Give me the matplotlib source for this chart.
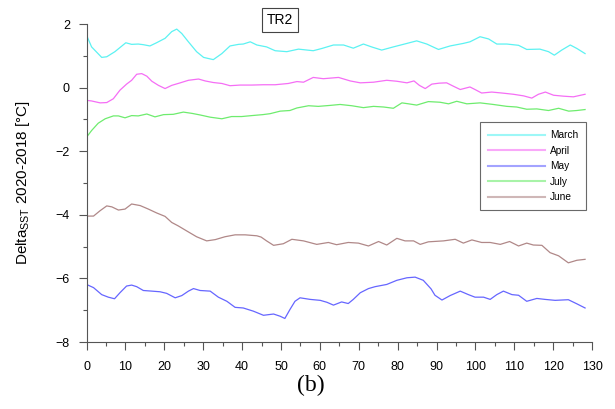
import numpy as np
import matplotlib
matplotlib.use("Agg")
import matplotlib.pyplot as plt
from matplotlib.ticker import MultipleLocator

plt.rcParams['font.family'] = ['Liberation Sans', 'DejaVu Sans']
plt.rcParams['mathtext.default'] = 'regular'

# values
march_x = [0, 1.3, 3.9, 5.2, 7.3, 10.1, 11.6, 13.3, 14.6, 16.3, 18.0, 20.2, 21.9, 23.2, 24.5, 26.2,
           28.3, 30.1, 32.6, 34.8, 36.9, 39.1, 40.3, 42.1, 43.8, 46.3, 48.5, 51.5, 54.5, 58.3,
           60.5, 63.5, 66.1, 68.6, 71.2, 73.3, 75.9, 78.9, 82.4, 84.9, 87.5, 90.5, 93.5, 96.9,
           98.6, 101.2, 103.4, 105.5, 108.1, 111.1, 113.2, 116.6, 118.8, 120.3, 122.2, 124.4,
           126.1, 128.2]
march_y = [1.65, 1.28, 0.95, 0.97, 1.13, 1.41, 1.36, 1.37, 1.35, 1.31, 1.41, 1.55, 1.76, 1.84,
           1.70, 1.44, 1.13, 0.95, 0.88, 1.07, 1.31, 1.36, 1.37, 1.44, 1.34, 1.28, 1.16, 1.13,
           1.21, 1.16, 1.23, 1.34, 1.34, 1.24, 1.37, 1.28, 1.18, 1.28, 1.39, 1.47, 1.37, 1.2,
           1.31, 1.39, 1.44, 1.6, 1.53, 1.37, 1.37, 1.33, 1.2, 1.21, 1.13, 1.02, 1.18, 1.34,
           1.23, 1.07]

april_x = [0, 1.3, 3.5, 5.2, 6.9, 8.6, 10.3, 11.6, 12.9, 14.2, 15.5, 16.8, 18.5, 20.2, 21.9,
           24.1, 26.2, 28.8, 30.5, 32.6, 34.8, 36.9, 39.5, 42.5, 45.5, 48.5, 51.9, 54.1, 55.8,
           58.3, 60.9, 64.8, 67.8, 70.4, 73.8, 77.2, 79.8, 82.4, 84.2, 85.6, 87.1, 88.8, 90.7,
           92.6, 94.4, 96.1, 98.6, 99.9, 101.6, 104.2, 106.8, 109.8, 112.4, 114.5, 116.2,
           118.0, 120.1, 122.7, 125.2, 128.2]
april_y = [-0.40, -0.42, -0.48, -0.47, -0.35, -0.08, 0.11, 0.23, 0.42, 0.44, 0.36, 0.20, 0.07,
           -0.03, 0.07, 0.15, 0.23, 0.27, 0.21, 0.16, 0.13, 0.06, 0.08, 0.08, 0.09, 0.09, 0.13,
           0.19, 0.17, 0.32, 0.28, 0.32, 0.21, 0.15, 0.17, 0.23, 0.20, 0.15, 0.21, 0.07, -0.03,
           0.11, 0.14, 0.15, 0.04, -0.06, 0.02, -0.06, -0.17, -0.14, -0.17, -0.21, -0.26, -0.33,
           -0.21, -0.14, -0.24, -0.27, -0.29, -0.21]

may_x = [0, 1.8, 3.9, 5.6, 7.2, 8.6, 10.3, 11.6, 12.9, 14.6, 16.8, 18.9, 20.6, 22.8, 24.5,
         26.2, 27.5, 29.2, 31.8, 33.9, 36.1, 38.2, 40.3, 42.9, 45.5, 48.1, 49.8, 51.0, 52.3,
         53.6, 54.9, 57.5, 60.1, 61.8, 63.5, 65.6, 67.3, 68.6, 70.4, 72.5, 74.2, 77.2, 79.8,
         82.4, 84.5, 86.6, 88.6, 89.6, 91.4, 93.5, 96.1, 98.2, 99.9, 102.1, 103.8, 105.5,
         107.2, 109.4, 111.1, 113.2, 115.8, 117.9, 120.5, 123.9, 126.1, 128.2]
may_y = [-6.19, -6.29, -6.51, -6.59, -6.64, -6.45, -6.24, -6.21, -6.26, -6.38, -6.40, -6.42,
         -6.47, -6.61, -6.54, -6.40, -6.32, -6.38, -6.40, -6.59, -6.72, -6.91, -6.93, -7.03,
         -7.16, -7.12, -7.19, -7.26, -6.98, -6.72, -6.61, -6.66, -6.69, -6.75, -6.84, -6.74,
         -6.79, -6.66, -6.45, -6.32, -6.26, -6.19, -6.06, -5.98, -5.96, -6.06, -6.33, -6.53,
         -6.68, -6.54, -6.40, -6.51, -6.59, -6.59, -6.66, -6.51, -6.40, -6.51, -6.53, -6.72,
         -6.63, -6.66, -6.69, -6.67, -6.80, -6.93]

july_x = [0, 1.3, 3.0, 4.8, 6.9, 8.2, 9.9, 11.6, 13.3, 15.5, 17.6, 19.8, 22.3, 24.9, 27.1,
          29.2, 31.8, 34.8, 37.3, 39.9, 42.5, 45.3, 47.2, 49.8, 52.3, 54.1, 57.1, 59.6, 62.6,
          65.2, 68.2, 71.2, 73.8, 76.4, 78.9, 81.1, 82.8, 84.9, 87.9, 90.9, 93.1, 95.2, 97.8,
          101.2, 104.6, 108.1, 110.6, 113.2, 115.8, 118.8, 121.4, 124.0, 126.1, 128.2]
july_y = [-1.56, -1.35, -1.12, -0.98, -0.89, -0.89, -0.95, -0.88, -0.89, -0.83, -0.92, -0.85,
          -0.84, -0.77, -0.81, -0.86, -0.93, -0.98, -0.91, -0.91, -0.88, -0.85, -0.82, -0.74,
          -0.72, -0.64, -0.57, -0.59, -0.56, -0.53, -0.57, -0.63, -0.59, -0.61, -0.65, -0.48,
          -0.51, -0.55, -0.44, -0.46, -0.51, -0.43, -0.51, -0.48, -0.53, -0.59, -0.61, -0.68,
          -0.67, -0.72, -0.65, -0.74, -0.72, -0.69]

june_x = [0, 1.8, 3.5, 5.2, 6.5, 8.2, 9.9, 11.6, 13.8, 15.9, 18.0, 20.2, 21.9, 23.6, 25.8,
          28.3, 30.9, 33.1, 35.6, 38.2, 40.8, 43.8, 44.9, 46.3, 48.1, 50.6, 52.8, 55.8, 59.2,
          62.2, 64.3, 67.3, 69.9, 72.5, 75.1, 77.2, 79.8, 81.9, 84.1, 85.8, 87.9, 91.8, 94.8,
          96.9, 99.1, 101.6, 103.8, 106.4, 108.8, 111.1, 113.2, 114.9, 117.1, 119.2, 121.4,
          123.9, 126.1, 128.2]
june_y = [-4.04, -4.04, -3.87, -3.72, -3.75, -3.85, -3.82, -3.66, -3.71, -3.82, -3.94, -4.05,
          -4.24, -4.35, -4.51, -4.69, -4.82, -4.78, -4.69, -4.63, -4.63, -4.66, -4.70, -4.82,
          -4.96, -4.91, -4.77, -4.82, -4.93, -4.87, -4.94, -4.87, -4.89, -4.98, -4.84, -4.95,
          -4.74, -4.82, -4.82, -4.93, -4.85, -4.82, -4.77, -4.89, -4.79, -4.87, -4.87, -4.93,
          -4.84, -4.98, -4.89, -4.95, -4.96, -5.19, -5.29, -5.51, -5.43, -5.40]

series = [
    ("March", march_x, march_y, "#5cf2f2"),
    ("April", april_x, april_y, "#f56ef5"),
    ("May", may_x, may_y, "#6666ff"),
    ("July", july_x, july_y, "#6eec6e"),
    ("June", june_x, june_y, "#b08888"),
]

fig = plt.figure(figsize=(6.15, 4.09), dpi=100)
ax = fig.add_axes([0.1407, 0.1638, 0.822, 0.7775])

for name, xs, ys, c in series:
    ax.plot(xs, ys, color=c, lw=0.9, label=name)

ax.set_xlim(0, 130)
ax.set_ylim(-8, 2)
ax.xaxis.set_major_locator(MultipleLocator(10))
ax.xaxis.set_minor_locator(MultipleLocator(5))
ax.yaxis.set_major_locator(MultipleLocator(2))
ax.yaxis.set_minor_locator(MultipleLocator(1))
ax.tick_params(which='major', length=6, width=0.8, color='#555555', labelsize=9, pad=6)
ax.tick_params(which='minor', length=3, width=0.8, color='#555555')
ax.tick_params(axis='x', which='major', pad=8)

for s in ['top', 'right']:
    ax.spines[s].set_visible(False)
for s in ['left', 'bottom']:
    ax.spines[s].set_color('#555555')
    ax.spines[s].set_linewidth(0.8)

ax.set_ylabel("Delta$_{SST}$ 2020-2018 [°C]", fontsize=11, labelpad=17)

ax.text(0.383, 1.012, "TR2", transform=ax.transAxes, ha='center', va='center', fontsize=10,
        bbox=dict(boxstyle='square,pad=0.35', fc='white', ec='#444444', lw=0.8))

leg = ax.legend(loc='upper right', bbox_to_anchor=(0.988, 0.692), fontsize=7.3,
                handlelength=5.6, frameon=True, fancybox=False, edgecolor='#444444',
                borderpad=0.8, labelspacing=0.55, handletextpad=0.5, borderaxespad=0)
leg.get_frame().set_linewidth(0.8)
for line in leg.get_lines():
    line.set_linewidth(1.5)
    line.set_alpha(0.6)

fig.text(0.505, 0.058, "(b)", ha='center', va='center', fontsize=17,
         family=['Liberation Serif', 'DejaVu Serif'])

fig.savefig("out.png", dpi=100)
